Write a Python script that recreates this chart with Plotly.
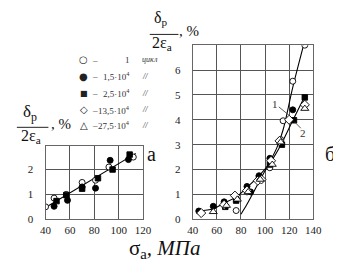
import plotly.graph_objects as go

# ---- data: left chart (a) ----
a_open_x = [40, 47, 57, 70, 81, 92, 112]
a_open_y = [0.5, 0.85, 1.0, 1.48, 1.57, 2.1, 2.5]
a_fc_x = [47, 58, 70, 81, 93, 108]
a_fc_y = [0.52, 0.76, 1.3, 1.25, 2.37, 2.4]
a_sq_x = [49, 57, 70, 83, 95, 109]
a_sq_y = [0.73, 0.97, 1.23, 1.65, 2.0, 2.6]
a_line_x = [40, 114]
a_line_y = [0.47, 2.65]

# ---- data: right chart (б) ----
b_open_x = [76, 104, 113, 115, 123, 133]
b_open_y = [0.35, 2.07, 3.2, 3.96, 5.55, 7.0]
b_fc_x = [45, 57, 66, 76, 85, 88, 95, 104, 123]
b_fc_y = [0.33, 0.52, 0.7, 0.85, 1.32, 1.1, 1.75, 2.45, 4.4]
b_sq_x = [67, 76, 95, 104, 114, 124, 133]
b_sq_y = [0.5, 0.75, 1.65, 2.2, 3.0, 3.98, 4.9]
b_dm_x = [47, 66, 75, 85, 94, 97, 105, 112, 120, 133]
b_dm_y = [0.25, 0.58, 0.95, 1.15, 1.55, 1.6, 2.35, 3.15, 4.0, 4.6]
b_tr_x = [57, 68, 77, 86, 96, 106, 113, 133]
b_tr_y = [0.3, 0.55, 0.8, 1.1, 1.6, 2.2, 3.1, 4.45]
curve1_x = [80, 85, 90, 95, 100, 105, 110, 115, 123, 132]
curve1_y = [0.2, 0.6, 1.05, 1.5, 1.95, 2.4, 2.9, 3.6, 5.3, 7.0]
curve2_x = [45, 57, 66, 76, 85, 95, 105, 113, 123, 133]
curve2_y = [0.33, 0.42, 0.65, 0.89, 1.28, 1.74, 2.33, 2.98, 3.97, 4.95]

legend_glyphs = ["○", "●", "■", "◇", "△"]
legend_counts = ["1", "1,5·10<sup>4</sup>", "2,5·10<sup>4</sup>",
                 "13,5·10<sup>4</sup>", "27,5·10<sup>4</sup>"]
legend_units = ["<i>цикл</i>", "<i>//</i>", "<i>//</i>", "<i>//</i>", "<i>//</i>"]
series_names = ["1 цикл", "1,5·10⁴", "2,5·10⁴", "13,5·10⁴", "27,5·10⁴"]

SERIF = "Liberation Serif"
fig = go.Figure()

def add_line(x, y, xa, ya, shape="linear"):
    fig.add_trace(go.Scatter(x=x, y=y, mode="lines", xaxis=xa, yaxis=ya,
                             line=dict(color="black", width=1.1, shape=shape),
                             showlegend=False, hoverinfo="skip"))

add_line(a_line_x, a_line_y, "x", "y")
add_line(curve1_x, curve1_y, "x2", "y2", "spline")
add_line(curve2_x, curve2_y, "x2", "y2", "spline")

styles = [
    dict(symbol="circle", color="white", size=6),
    dict(symbol="circle", color="black", size=6),
    dict(symbol="square", color="black", size=5.5),
    dict(symbol="diamond", color="white", size=7),
    dict(symbol="triangle-up", color="white", size=7),
]
series = [
    [(a_open_x, a_open_y, "x", "y"), (b_open_x, b_open_y, "x2", "y2")],
    [(a_fc_x, a_fc_y, "x", "y"), (b_fc_x, b_fc_y, "x2", "y2")],
    [(a_sq_x, a_sq_y, "x", "y"), (b_sq_x, b_sq_y, "x2", "y2")],
    [(b_dm_x, b_dm_y, "x2", "y2")],
    [(b_tr_x, b_tr_y, "x2", "y2")],
]
for i, (st, parts) in enumerate(zip(styles, series)):
    for j, (x, y, xa, ya) in enumerate(parts):
        fig.add_trace(go.Scatter(
            x=x, y=y, mode="markers", xaxis=xa, yaxis=ya,
            name=series_names[i], showlegend=False,
            marker=dict(symbol=st["symbol"], color=st["color"], size=st["size"],
                        line=dict(color="black", width=0.9))))

W, H = 341, 273
def px(x): return x / W
def py(y): return (H - y) / H

axis_common = dict(showgrid=True, gridcolor="#555", gridwidth=1, zeroline=False,
                   showline=True, linecolor="#666", linewidth=1, mirror=True,
                   ticks="", tickfont=dict(family=SERIF, size=11, color="#222"))

fig.update_layout(
    width=W, height=H, margin=dict(l=0, r=0, t=0, b=0),
    paper_bgcolor="white", plot_bgcolor="white",
    font=dict(family=SERIF),
    showlegend=False,
    xaxis=dict(domain=[px(33), px(135)], range=[40, 120], tickvals=[40, 60, 80, 100, 120],
               anchor="y", ticklabelstandoff=1, **axis_common),
    yaxis=dict(domain=[py(216), py(141)], range=[0, 2.95], tickvals=[0, 1, 2],
               anchor="x", ticklabelstandoff=9, **axis_common),
    xaxis2=dict(domain=[px(187), px(313)], range=[40, 140], tickvals=[40, 60, 80, 100, 120, 140],
                anchor="y2", ticklabelstandoff=1, **axis_common),
    yaxis2=dict(domain=[py(216), py(38)], range=[0, 7], tickvals=[0, 1, 2, 3, 4, 5, 6],
                anchor="x2", ticklabelstandoff=9, **axis_common),
)

def ann(text, x, y, size, xanchor="center", family=SERIF, color="#111"):
    fig.add_annotation(text=text, x=px(x), y=py(y), xref="paper", yref="paper",
                       showarrow=False, xanchor=xanchor, yanchor="middle",
                       font=dict(family=family, size=size, color=color))

# legend drawn as text rows
row_y = [53, 70, 87, 104, 120]
glyph_sizes = [10, 10, 8, 10, 10]
for g, gs, c, u, yy in zip(legend_glyphs, glyph_sizes, legend_counts, legend_units, row_y):
    ann(g, 73, yy, gs, family="DejaVu Sans", color="#222")
    ann("–", 79, yy, 9, xanchor="left", color="#333")
    ann(c, 123, yy, 9, xanchor="right", color="#333")
    ann(u, 132, yy, 8, xanchor="left", color="#333")

# y label, left chart
ann("δ<sub>p</sub>", 17, 107, 17)
ann("2ε<sub>a</sub>", 18, 131, 16)
ann(", %", 37, 119, 15, xanchor="left")
fig.add_shape(type="line", xref="paper", yref="paper", x0=px(3), x1=px(36), y0=py(122), y1=py(122),
              line=dict(color="#222", width=1))
# y label, right chart
ann("δ<sub>p</sub>", 154, 11, 16)
ann("2ε<sub>a</sub>", 155, 36, 16)
ann(", %", 171, 24, 15, xanchor="left")
fig.add_shape(type="line", xref="paper", yref="paper", x0=px(142), x1=px(172), y0=py(27), y1=py(27),
              line=dict(color="#222", width=1))
# panel letters
ann("а", 144, 149, 20)
ann("б", 331, 149, 20)
# x label
ann("σ<sub>a</sub><i>, МПа</i>", 158, 246, 21)

# curve labels with leader lines
fig.add_annotation(text="1", x=108.3, y=4.64, xref="x2", yref="y2", showarrow=False,
                   font=dict(family=SERIF, size=11, color="#333"))
fig.add_annotation(text="2", x=131.5, y=3.45, xref="x2", yref="y2", showarrow=False,
                   font=dict(family=SERIF, size=11, color="#333"))
fig.add_shape(type="line", xref="x2", yref="y2", x0=111.4, y0=4.52, x1=120.2, y1=4.17,
              line=dict(color="#333", width=0.8))
fig.add_shape(type="line", xref="x2", yref="y2", x0=129.7, y0=3.66, x1=124.2, y1=3.93,
              line=dict(color="#333", width=0.8))

fig.write_html("out.html")
